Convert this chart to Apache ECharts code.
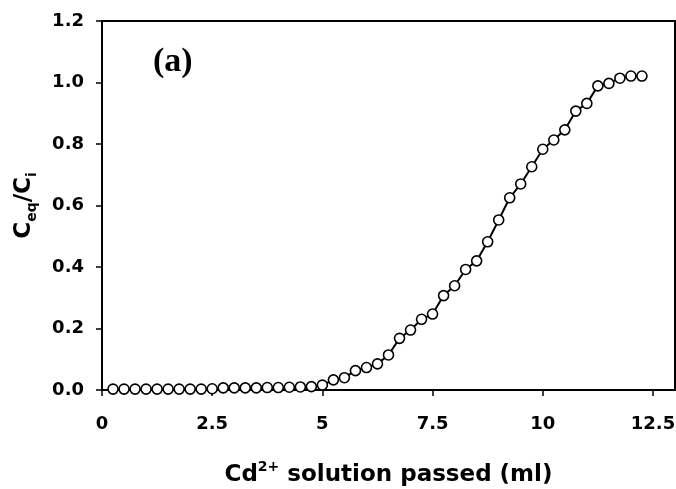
<!DOCTYPE html>
<html>
<head>
<meta charset="utf-8">
<script src="https://cdn.jsdelivr.net/npm/echarts@6/dist/echarts.min.js"></script>
<style>
html,body{margin:0;padding:0;background:#fff;}
#chart{width:676px;height:489px;}
</style>
</head>
<body>
<div id="chart"></div>
<script>
// Volume of Cd2+ solution passed (ml)
var volume = [0.25,0.5,0.75,1.0,1.25,1.5,1.75,2.0,2.25,2.5,2.75,3.0,3.25,3.5,3.75,4.0,4.25,4.5,4.75,5.0,
  5.25,5.5,5.75,6.0,6.25,6.5,6.75,7.0,7.25,7.5,7.75,8.0,8.25,8.5,8.75,9.0,9.25,9.5,9.75,10.0,
  10.25,10.5,10.75,11.0,11.25,11.5,11.75,12.0,12.25];
// Ceq/Ci
var ratio = [0.003,0.003,0.003,0.003,0.003,0.003,0.003,0.003,0.003,0.004,0.007,0.007,0.007,0.007,0.008,0.008,0.009,0.010,0.011,0.016,
  0.033,0.040,0.063,0.073,0.085,0.114,0.168,0.195,0.230,0.247,0.307,0.339,0.392,0.420,0.482,0.553,0.625,0.670,0.726,0.783,
  0.813,0.846,0.907,0.932,0.989,0.997,1.014,1.021,1.021];
var xTicks = [0, 2.5, 5, 7.5, 10, 12.5];
var yTicks = [0, 0.2, 0.4, 0.6, 0.8, 1.0, 1.2];

var chart = echarts.init(document.getElementById('chart'));
var labelFont = {fontFamily: 'DejaVu Sans', fontWeight: 'bold', fontSize: 18, color: '#000'};
chart.setOption({
  animation: false,
  backgroundColor: '#fff',
  grid: {left: 102, right: 1, top: 21, bottom: 99, show: true, borderColor: '#000', borderWidth: 2,
    containLabel: false, outerBoundsMode: 'none'},
  xAxis: {
    type: 'value', min: 0, max: 13, interval: 2.5,
    axisLine: {show: true, lineStyle: {color: '#000', width: 2}},
    axisTick: {show: true, inside: false, length: 6, lineStyle: {color: '#000', width: 1.5}},
    splitLine: {show: false},
    axisLabel: Object.assign({margin: 25, showMaxLabel: false,
      formatter: function (v) { return xTicks.indexOf(v) >= 0 ? String(v) : ''; }}, labelFont),
    name: '{m|Cd}{s|2+}{m| solution passed (ml)}',
    nameLocation: 'middle', nameGap: 70,
    nameTextStyle: {rich: {
      m: {fontFamily: 'DejaVu Sans', fontWeight: 'bold', fontSize: 23, color: '#000', lineHeight: 30},
      s: {fontFamily: 'DejaVu Sans', fontWeight: 'bold', fontSize: 14, color: '#000', lineHeight: 14, verticalAlign: 'top'}
    }}
  },
  yAxis: {
    type: 'value', min: 0, max: 1.2, interval: 0.2,
    axisLine: {show: true, lineStyle: {color: '#000', width: 2}},
    axisTick: {show: true, inside: false, length: 6, lineStyle: {color: '#000', width: 1.5}},
    splitLine: {show: false},
    axisLabel: Object.assign({margin: 18, formatter: function (v) { return v.toFixed(1); }}, labelFont),
    name: '{m|C}{s|eq}{m|/C}{s|i}',
    nameLocation: 'middle', nameGap: 63, nameRotate: 90,
    nameTextStyle: {rich: {
      m: {fontFamily: 'DejaVu Sans', fontWeight: 'bold', fontSize: 23, color: '#000', lineHeight: 30},
      s: {fontFamily: 'DejaVu Sans', fontWeight: 'bold', fontSize: 14, color: '#000', lineHeight: 14, verticalAlign: 'bottom'}
    }}
  },
  graphic: [{
    type: 'text', left: 153, top: 45,
    style: {text: '(a)', font: 'bold 34px "Liberation Serif"', fill: '#000'}
  }],
  series: [{
    type: 'line',
    data: volume.map(function (x, i) { return [x, ratio[i]]; }),
    clip: false,
    symbol: 'circle', symbolSize: 10,
    lineStyle: {color: '#000', width: 2},
    itemStyle: {color: '#fff', borderColor: '#000', borderWidth: 1.6}
  }]
});
</script>
</body>
</html>
